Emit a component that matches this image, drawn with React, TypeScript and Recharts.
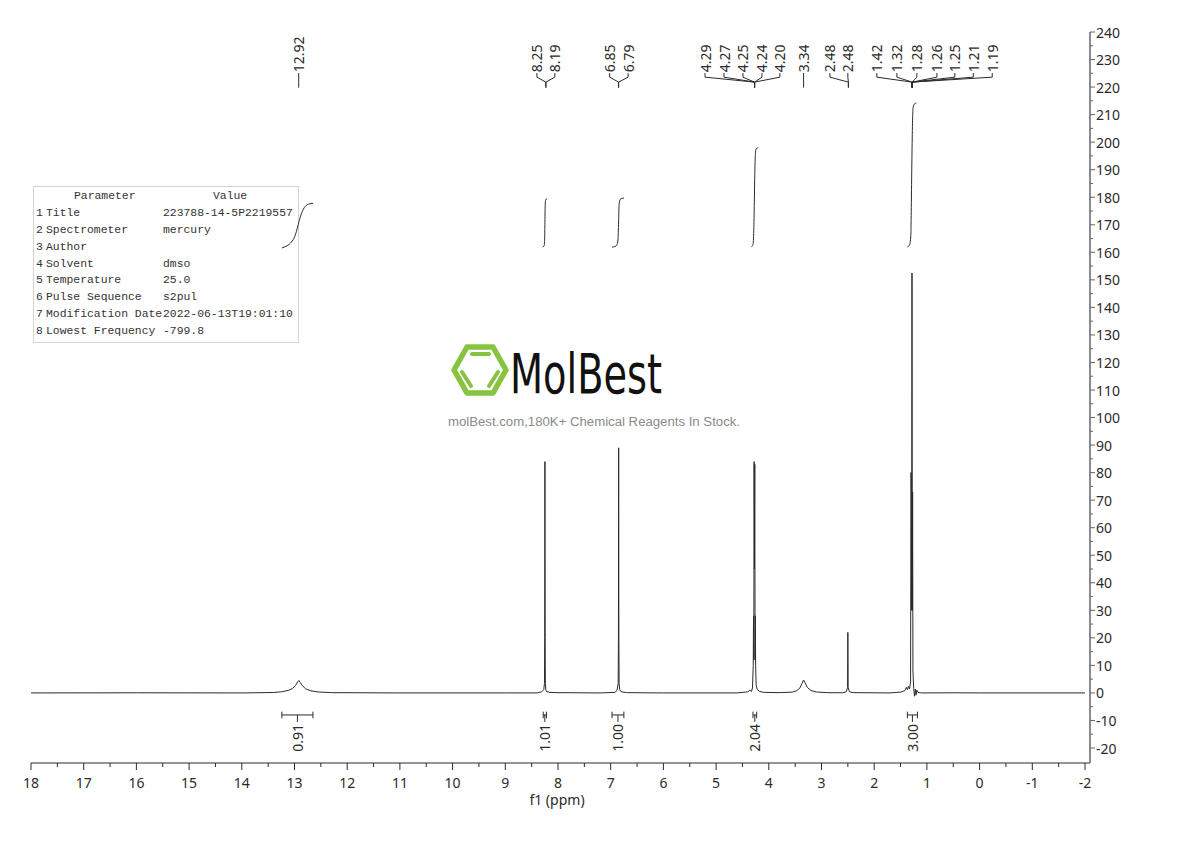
import React from "react";
import { LineChart, Line, XAxis, YAxis, ReferenceLine, ReferenceDot } from "recharts";

// 1H NMR trace, [ppm, intensity]
const spectrum: [number, number][] = [
  [18, 0], [16, 0.05], [14, 0], [13.4, 0.15], [13.25, 0.4], [13.12, 0.9], [13.04, 1.6],
  [12.98, 2.7], [12.94, 4.0], [12.92, 4.5], [12.89, 3.8], [12.85, 2.6], [12.79, 1.5],
  [12.7, 0.8], [12.55, 0.35], [12.3, 0.1], [11, 0], [9, 0], [8.4, 0], [8.31, 0.4],
  [8.27, 1.2], [8.257, 3.5], [8.252, 20], [8.248, 84], [8.244, 20], [8.24, 3.5],
  [8.23, 1.0], [8.21, 0.3], [8.19, 0.5], [8.17, 0.2], [8.0, 0.1], [7.2, 0], [6.92, 0.2],
  [6.88, 0.9], [6.858, 3.5], [6.853, 20], [6.849, 89], [6.845, 20], [6.84, 3.5],
  [6.83, 1.2], [6.8, 0.4], [6.7, 0.1], [6.0, 0], [4.6, 0], [4.4, 0.4], [4.36, 1.0],
  [4.33, 0.5], [4.31, 1.8], [4.295, 10], [4.29, 28], [4.284, 12], [4.279, 84],
  [4.272, 45], [4.266, 83], [4.26, 12], [4.255, 28], [4.25, 10], [4.24, 3], [4.22, 1.2],
  [4.18, 0.6], [4.1, 0.2], [3.8, 0.1], [3.55, 0.3], [3.47, 0.8], [3.41, 1.8], [3.37, 3.5],
  [3.34, 4.7], [3.31, 3.6], [3.27, 2.0], [3.2, 0.9], [3.1, 0.35], [2.9, 0.1], [2.6, 0.05],
  [2.53, 0.4], [2.505, 2], [2.5, 22], [2.495, 2], [2.47, 0.4], [2.4, 0.1], [1.7, 0],
  [1.5, 0.3], [1.42, 0.8], [1.39, 2.0], [1.37, 1.2], [1.35, 2.4], [1.33, 1.4], [1.31, 4],
  [1.302, 80], [1.295, 72], [1.289, 30], [1.283, 152.5], [1.277, 30], [1.271, 73],
  [1.265, 8], [1.25, 1.5], [1.235, -1.2], [1.22, 1.4], [1.205, -0.8], [1.19, 1.0],
  [1.17, 0.2], [1.1, 0], [0.5, 0.05], [0, 0], [-2, 0],
];

// integral curves drawn above each signal
const integral1: [number, number][] = [
  [13.24, 161.6], [13.16, 162.2], [13.08, 163.3], [13.0, 165.5], [12.95, 168.5],
  [12.91, 171.5], [12.86, 174.5], [12.8, 176.6], [12.73, 177.5], [12.65, 177.8],
];
const integral2: [number, number][] = [
  [8.29, 161.9], [8.265, 162.3], [8.255, 164], [8.249, 170], [8.243, 177], [8.235, 179], [8.21, 179.5],
];
const integral3: [number, number][] = [
  [6.975, 161.9], [6.92, 162.1], [6.885, 162.6], [6.862, 164.5], [6.85, 171], [6.84, 177.5],
  [6.82, 179.2], [6.79, 179.6], [6.75, 179.7],
];
const integral4: [number, number][] = [
  [4.33, 162], [4.3, 162.8], [4.285, 168], [4.275, 178], [4.265, 189], [4.255, 195.5],
  [4.24, 197.5], [4.2, 198],
];
const integral5: [number, number][] = [
  [1.37, 162], [1.33, 162.6], [1.305, 166], [1.295, 178], [1.283, 196], [1.272, 208],
  [1.262, 212.5], [1.24, 213.8], [1.2, 214.2],
];
const integralCurves = [integral1, integral2, integral3, integral4, integral5];

// integration ranges and values
const integrals = [
  { from: 13.24, to: 12.65, value: "0.91" },
  { from: 8.28, to: 8.22, value: "1.01" },
  { from: 6.975, to: 6.75, value: "1.00" },
  { from: 4.3, to: 4.23, value: "2.04" },
  { from: 1.37, to: 1.18, value: "3.00" },
];

// peak picking: peak position and label slots along the top
const peakGroups: { peak: number; labels: [string, number][] }[] = [
  { peak: 12.92, labels: [["12.92", 12.92]] },
  { peak: 8.23, labels: [["8.25", 8.4], ["8.19", 8.06]] },
  { peak: 6.85, labels: [["6.85", 7.02], ["6.79", 6.67]] },
  {
    peak: 4.27,
    labels: [["4.29", 5.21], ["4.27", 4.85], ["4.25", 4.49], ["4.24", 4.13], ["4.20", 3.79]],
  },
  { peak: 3.34, labels: [["3.34", 3.34]] },
  { peak: 2.49, labels: [["2.48", 2.84], ["2.48", 2.5]] },
  {
    peak: 1.28,
    labels: [
      ["1.42", 1.95], ["1.32", 1.57], ["1.28", 1.19], ["1.26", 0.81],
      ["1.25", 0.47], ["1.21", 0.12], ["1.19", -0.24],
    ],
  },
];

const xTicks = [18, 17, 16, 15, 14, 13, 12, 11, 10, 9, 8, 7, 6, 5, 4, 3, 2, 1, 0, -1, -2];
const yTicks = [
  -20, -10, 0, 10, 20, 30, 40, 50, 60, 70, 80, 90, 100, 110, 120, 130, 140, 150, 160,
  170, 180, 190, 200, 210, 220, 230, 240,
];
const xAllTicks = [...xTicks, ...xTicks.slice(1).map((t) => t + 0.5)].sort((a, b) => b - a);
const yAllTicks = [...yTicks, ...yTicks.slice(1).map((t) => t - 5)].sort((a, b) => a - b);

const params = [
  ["1", "Title", "223788-14-5P2219557"],
  ["2", "Spectrometer", "mercury"],
  ["3", "Author", ""],
  ["4", "Solvent", "dmso"],
  ["5", "Temperature", "25.0"],
  ["6", "Pulse Sequence", "s2pul"],
  ["7", "Modification Date", "2022-06-13T19:01:10"],
  ["8", "Lowest Frequency", "-799.8"],
];

const FONT = "'Noto Sans', 'DejaVu Sans', sans-serif";
const INK = "#2b2b2b";

const XTick = (p: any) => {
  const v = p.payload.value;
  const major = Number.isInteger(v);
  return (
    <g>
      <line x1={p.x} x2={p.x} y1={p.y} y2={p.y + (major ? 7 : 4)} stroke={INK} />
      {major && (
        <text x={p.x} y={p.y + 19} textAnchor="middle" dominantBaseline="central" fontSize={14} fill={INK} fontFamily={FONT}>
          {v}
        </text>
      )}
    </g>
  );
};

const YTick = (p: any) => {
  const v = p.payload.value;
  const major = v % 10 === 0;
  return (
    <g>
      <line x1={p.x} x2={p.x + (major ? 5 : 3)} y1={p.y} y2={p.y} stroke="#666" />
      {major && (
        <text x={p.x + 6} y={p.y} textAnchor="start" dominantBaseline="central" fontSize={14} fill={INK} fontFamily={FONT}>
          {v}
        </text>
      )}
    </g>
  );
};

const toPts = (arr: [number, number][]) => arr.map(([ppm, v]) => ({ ppm, v }));

// connector heights above the plot (intensity units)
const LBL_Y = 225.4;
const BEND1 = 223.6;
const BEND2 = 221.8;
const TIP = 219.8;

export default function App() {
  const segs: React.ReactNode[] = [];
  const texts: React.ReactNode[] = [];

  peakGroups.forEach((g, gi) => {
    g.labels.forEach(([txt, slot], li) => {
      const k = `p${gi}-${li}`;
      segs.push(
        <ReferenceLine key={k + "a"} segment={[{ x: slot, y: LBL_Y - 0.3 }, { x: slot, y: BEND1 }]} stroke={INK} ifOverflow="visible" />,
        <ReferenceLine key={k + "b"} segment={[{ x: slot, y: BEND1 }, { x: g.peak, y: BEND2 }]} stroke={INK} ifOverflow="visible" />,
        <ReferenceLine key={k + "c"} segment={[{ x: g.peak, y: BEND2 }, { x: g.peak, y: TIP }]} stroke={INK} ifOverflow="visible" />
      );
      texts.push(
        <ReferenceDot
          key={k + "t"}
          x={slot}
          y={LBL_Y}
          r={0}
          ifOverflow="visible"
          shape={(s: any) => (
            <text
              x={s.cx}
              y={s.cy}
              transform={`rotate(-90 ${s.cx} ${s.cy})`}
              textAnchor="start"
              dominantBaseline="central"
              fontSize={14}
              fill={INK}
              fontFamily={FONT}
            >
              {txt}
            </text>
          )}
        />
      );
    });
  });

  integrals.forEach((it, i) => {
    const k = `i${i}`;
    const mid = (it.from + it.to) / 2;
    segs.push(
      <ReferenceLine key={k + "h"} segment={[{ x: it.from, y: -8 }, { x: it.to, y: -8 }]} stroke={INK} ifOverflow="visible" />,
      <ReferenceLine key={k + "l"} segment={[{ x: it.from, y: -6.8 }, { x: it.from, y: -9.2 }]} stroke={INK} ifOverflow="visible" />,
      <ReferenceLine key={k + "r"} segment={[{ x: it.to, y: -6.8 }, { x: it.to, y: -9.2 }]} stroke={INK} ifOverflow="visible" />
    );
    texts.push(
      <ReferenceDot
        key={k + "t"}
        x={mid}
        y={-8}
        r={0}
        ifOverflow="visible"
        shape={(s: any) => (
          <g>
            <line x1={s.cx} x2={s.cx} y1={s.cy} y2={s.cy + 7} stroke={INK} />
            <text
              x={s.cx}
              y={s.cy + 9}
              transform={`rotate(-90 ${s.cx} ${s.cy + 9})`}
              textAnchor="end"
              dominantBaseline="central"
              fontSize={14}
              fill={INK}
              fontFamily={FONT}
            >
              {it.value}
            </text>
          </g>
        )}
      />
    );
  });

  return (
    <div style={{ position: "absolute", left: 0, top: 0, width: 1190, height: 841, background: "#fff" }}>
      {/* watermark */}
      <svg width={1190} height={841} style={{ position: "absolute", left: 0, top: 0 }}>
        <polygon
          points="454,370 467,347 493,347 506,370 493,393 467,393"
          fill="none"
          stroke="#86c440"
          strokeWidth={5.5}
          strokeLinejoin="round"
        />
        <line x1={472} y1={354} x2={489} y2={354} stroke="#86c440" strokeWidth={4} strokeLinecap="round" />
        <line x1={462} y1={372} x2={471} y2={386} stroke="#86c440" strokeWidth={4} strokeLinecap="round" />
        <line x1={498} y1={372} x2={489} y2={386} stroke="#86c440" strokeWidth={4} strokeLinecap="round" />
        <text
          x={510}
          y={393}
          fontSize={56}
          fontFamily="'DejaVu Sans', sans-serif"
          fill="#111"
          textLength={152}
          lengthAdjust="spacingAndGlyphs"
        >
          MolBest
        </text>
        <text
          x={448}
          y={426}
          fontSize={12.5}
          fontFamily="'Liberation Sans', Arial, sans-serif"
          fill="#8a8a8a"
          textLength={292}
          lengthAdjust="spacingAndGlyphs"
        >
          molBest.com,180K+ Chemical Reagents In Stock.
        </text>
      </svg>

      {/* parameter table */}
      <div
        style={{
          position: "absolute",
          left: 33,
          top: 186,
          width: 264,
          height: 155,
          border: "1px solid #d4d4d4",
          fontFamily: "'Liberation Mono', monospace",
          fontSize: 11.4,
          color: "#333",
        }}
      >
        <div style={{ position: "absolute", left: 40, top: 3 }}>Parameter</div>
        <div style={{ position: "absolute", left: 179, top: 3 }}>Value</div>
        {params.map((r, i) => (
          <React.Fragment key={r[0]}>
            <div style={{ position: "absolute", left: 2, top: 20 + i * 16.85 }}>{r[0]}</div>
            <div style={{ position: "absolute", left: 12, top: 20 + i * 16.85 }}>{r[1]}</div>
            <div style={{ position: "absolute", left: 129, top: 20 + i * 16.85 }}>{r[2]}</div>
          </React.Fragment>
        ))}
      </div>

      <div style={{ position: "absolute", left: 0, top: 0 }}>
        <LineChart width={1190} height={841} margin={{ top: 32, left: 31, right: 40, bottom: 48 }}>
          <XAxis
            type="number"
            dataKey="ppm"
            domain={[-2, 18]}
            reversed
            allowDataOverflow
            ticks={xAllTicks}
            interval={0}
            tickSize={0}
            tickMargin={0}
            tick={<XTick />}
            axisLine={{ stroke: INK }}
            height={30}
            padding={{ left: 0, right: 5 }}
          />
          <YAxis
            type="number"
            orientation="right"
            domain={[-20, 240]}
            allowDataOverflow
            ticks={yAllTicks}
            interval={0}
            tickSize={0}
            tickMargin={0}
            tick={<YTick />}
            axisLine={{ stroke: "#666", strokeWidth: 1.5 }}
            width={60}
            padding={{ top: 0, bottom: 15 }}
          />
          <Line data={toPts(spectrum)} dataKey="v" type="linear" stroke={INK} strokeWidth={1} dot={false} isAnimationActive={false} />
          {integralCurves.map((c, i) => (
            <Line key={i} data={toPts(c)} dataKey="v" type="monotone" stroke={INK} strokeWidth={1} dot={false} isAnimationActive={false} />
          ))}
          {segs}
          {texts}
        </LineChart>
      </div>

      <div
        style={{
          position: "absolute",
          left: 507,
          top: 792,
          width: 100,
          textAlign: "center",
          fontFamily: FONT,
          fontSize: 14,
          lineHeight: "15px",
          color: INK,
        }}
      >
        f1 (ppm)
      </div>
    </div>
  );
}
